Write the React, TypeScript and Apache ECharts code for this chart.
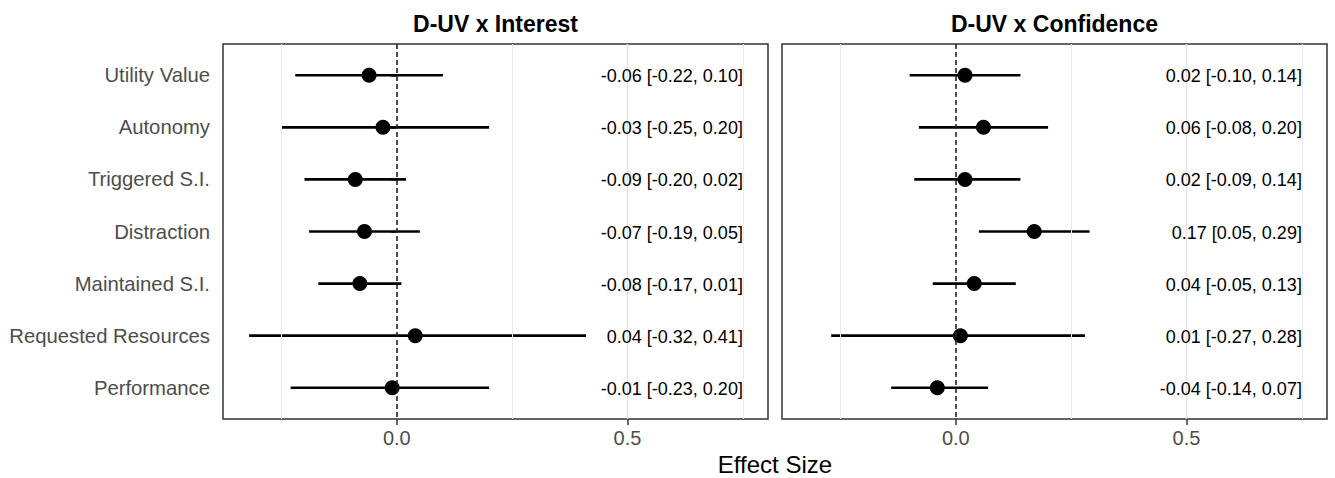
import React, { useEffect, useRef } from "react";
import * as echarts from "echarts";

const categories = [
  "Utility Value",
  "Autonomy",
  "Triggered S.I.",
  "Distraction",
  "Maintained S.I.",
  "Requested Resources",
  "Performance",
];
const rowIndex = [1, 2, 3, 4, 5, 6, 7];

const panelTitles = ["D-UV x Interest", "D-UV x Confidence"];

const interestEst = [-0.06, -0.03, -0.09, -0.07, -0.08, 0.04, -0.01];
const interestLo = [-0.22, -0.25, -0.2, -0.19, -0.17, -0.32, -0.23];
const interestHi = [0.1, 0.2, 0.02, 0.05, 0.01, 0.41, 0.2];

const confEst = [0.02, 0.06, 0.02, 0.17, 0.04, 0.01, -0.04];
const confLo = [-0.1, -0.08, -0.09, 0.05, -0.05, -0.27, -0.14];
const confHi = [0.14, 0.2, 0.14, 0.29, 0.13, 0.28, 0.07];

const xTickValues = [0, 0.5];
const majorGrid = [0.5];
const minorGrid = [-0.25, 0.25, 0.75];

const xAxisTitle = "Effect Size";

// layout constants
const X_MIN = -0.3766;
const X_MAX = 0.8044;
const LABEL_X = 0.75;
const FONT = "'Liberation Sans', Arial, Helvetica, sans-serif";

const fmt = (v: number) => v.toFixed(2);

export default function App() {
  const ref = useRef<HTMLDivElement>(null);

  useEffect(() => {
    document.body.style.margin = "0";
    if (!ref.current) return;
    const chart = echarts.init(ref.current, undefined, { renderer: "svg" });

    const panels = [
      { est: interestEst, lo: interestLo, hi: interestHi },
      { est: confEst, lo: confLo, hi: confHi },
    ];

    const grids = [
      { left: 223, right: 567, top: 44, bottom: 59 },
      { left: 782, right: 8, top: 44, bottom: 59 },
    ].map((g) => ({
      ...g,
      show: true,
      borderColor: "#333333",
      borderWidth: 1.5,
      backgroundColor: "#ffffff",
      containLabel: false,
    }));

    const xAxes = [0, 1].map((i) => ({
      type: "value",
      gridIndex: i,
      min: X_MIN,
      max: X_MAX,
      axisLine: { show: false },
      splitLine: { show: false },
      axisTick: {
        show: true,
        customValues: xTickValues,
        length: 6,
        lineStyle: { color: "#333333", width: 1.5 },
      },
      axisLabel: {
        show: true,
        customValues: xTickValues,
        formatter: (v: number) => v.toFixed(1),
        color: "#4D4D4D",
        fontSize: 20,
        fontFamily: FONT,
        margin: 9,
      },
    }));

    const yAxes = [0, 1].map((i) => ({
      type: "value",
      gridIndex: i,
      min: 0.4,
      max: 7.6,
      inverse: true,
      axisLine: { show: false },
      splitLine: { show: false },
      axisTick: {
        show: i === 0,
        customValues: rowIndex,
        length: 6,
        lineStyle: { color: "#333333", width: 1.5 },
      },
      axisLabel: {
        show: i === 0,
        customValues: rowIndex,
        formatter: (v: number) => categories[Math.round(v) - 1] ?? "",
        color: "#4D4D4D",
        fontSize: 20.3,
        fontFamily: FONT,
        margin: 13,
      },
    }));

    const series: any[] = [];
    panels.forEach((p, i) => {
      // grid lines
      series.push({
        type: "line",
        xAxisIndex: i,
        yAxisIndex: i,
        data: [],
        silent: true,
        markLine: {
          silent: true,
          symbol: "none",
          label: { show: false },
          animation: false,
          data: [
            ...minorGrid.map((v) => ({
              xAxis: v,
              lineStyle: { color: "#EBEBEB", width: 1, type: "solid" },
            })),
            ...majorGrid.map((v) => ({
              xAxis: v,
              lineStyle: { color: "#E4E4E4", width: 1.4, type: "solid" },
            })),
            {
              xAxis: 0,
              lineStyle: { color: "#222222", width: 1.6, type: [5, 3] },
            },
          ],
        },
      });
      // error bars
      series.push({
        type: "custom",
        xAxisIndex: i,
        yAxisIndex: i,
        data: rowIndex.map((r, k) => [r, p.lo[k], p.hi[k]]),
        encode: { x: [1, 2], y: 0 },
        renderItem: (params: any, api: any) => {
          const a = api.coord([api.value(1), api.value(0)]);
          const b = api.coord([api.value(2), api.value(0)]);
          return {
            type: "line",
            shape: { x1: a[0], y1: a[1], x2: b[0], y2: b[1] },
            style: { stroke: "#000000", lineWidth: 2.6 },
          };
        },
        z: 3,
      });
      // points
      series.push({
        type: "scatter",
        xAxisIndex: i,
        yAxisIndex: i,
        data: rowIndex.map((r, k) => [p.est[k], r]),
        symbol: "circle",
        symbolSize: 15,
        itemStyle: { color: "#000000", opacity: 1 },
        z: 4,
      });
      // labels
      series.push({
        type: "custom",
        xAxisIndex: i,
        yAxisIndex: i,
        data: rowIndex.map((r, k) => [LABEL_X, r, k]),
        encode: { x: 0, y: 1 },
        renderItem: (params: any, api: any) => {
          const k = api.value(2);
          const c = api.coord([api.value(0), api.value(1)]);
          return {
            type: "text",
            x: c[0],
            y: c[1] + 1,
            style: {
              text: `${fmt(p.est[k])} [${fmt(p.lo[k])}, ${fmt(p.hi[k])}]`,
              align: "right",
              verticalAlign: "middle",
              fontSize: 18,
              fontFamily: FONT,
              fill: "#000000",
            },
          };
        },
        z: 5,
      });
    });

    chart.setOption({
      animation: false,
      backgroundColor: "#ffffff",
      grid: grids,
      xAxis: xAxes,
      yAxis: yAxes,
      series,
      graphic: [
        {
          type: "text",
          x: (223 + 768) / 2,
          y: 24,
          style: {
            text: panelTitles[0],
            align: "center",
            verticalAlign: "middle",
            fontSize: 23,
            fontWeight: "bold",
            fontFamily: FONT,
            fill: "#000000",
          },
        },
        {
          type: "text",
          x: (782 + 1327) / 2,
          y: 24,
          style: {
            text: panelTitles[1],
            align: "center",
            verticalAlign: "middle",
            fontSize: 23,
            fontWeight: "bold",
            fontFamily: FONT,
            fill: "#000000",
          },
        },
        {
          type: "text",
          x: 775,
          y: 464,
          style: {
            text: xAxisTitle,
            align: "center",
            verticalAlign: "middle",
            fontSize: 24,
            fontFamily: FONT,
            fill: "#000000",
          },
        },
      ],
    });

    return () => chart.dispose();
  }, []);

  return <div ref={ref} style={{ width: 1335, height: 478 }} />;
}
